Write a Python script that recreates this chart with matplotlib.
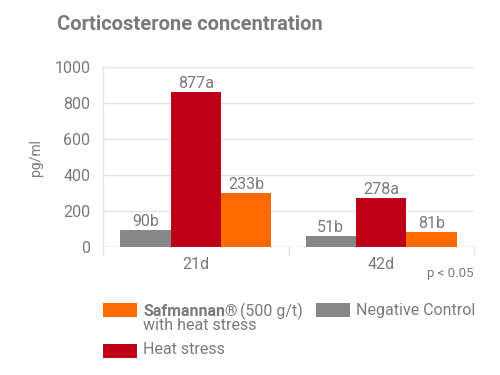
import matplotlib
matplotlib.use("Agg")
import matplotlib.pyplot as plt
from matplotlib.patches import Rectangle
import numpy as np

plt.rcParams['font.family'] = ['Roboto', 'DejaVu Sans']

categories = ["21d", "42d"]
series_names = ["Negative Control", "Heat stress", "Safmannan® (500 g/t) with heat stress"]
neg_control = [94, 63]
heat_stress = [860, 275]
safmannan = [302, 82]
neg_labels = ["90b", "51b"]
heat_labels = ["877a", "278a"]
saf_labels = ["233b", "81b"]
yticks = [0, 200, 400, 600, 800, 1000]

c_gray = "#878787"
c_red = "#BE0019"
c_orange = "#FF6A00"
c_text = "#7a7a7a"
c_grid = "#e3e3e3"

fig = plt.figure(figsize=(5, 3.75), dpi=100)
ax = fig.add_axes([0.206, 0.341, 0.742, 0.48])

x = np.arange(len(categories))
w = 0.272
series = [(neg_control, neg_labels, c_gray), (heat_stress, heat_labels, c_red), (safmannan, saf_labels, c_orange)]
for i, (vals, labs, col) in enumerate(series):
    pos = x + (i - 1) * w
    ax.bar(pos, vals, width=w, color=col, zorder=3, linewidth=0)
    for p, v, l in zip(pos, vals, labs):
        ax.text(p, v + 6, l, ha="center", va="bottom", fontsize=11.5, color=c_text, zorder=4)

ax.set_xlim(-0.5, 1.5)
ax.set_ylim(0, 1000)
ax.set_yticks(yticks)
ax.set_yticklabels([str(t) for t in yticks], fontsize=11.5, color=c_text)
ax.yaxis.grid(True, color=c_grid, linewidth=1, zorder=0)
ax.tick_params(axis="y", length=0, pad=9)
for s in ["top", "right", "bottom", "left"]:
    ax.spines[s].set_visible(False)
# category separator lines
for b in [-0.5, 0.5, 1.5]:
    ax.plot([b, b], [-45, 1000 if b == -0.5 else 0], color=c_grid, lw=1, clip_on=False, zorder=1)
ax.axhline(0, color=c_grid, lw=1, zorder=1)
ax.set_xticks(x)
ax.set_xticklabels(categories, fontsize=11.5, color=c_text)
ax.tick_params(axis="x", length=0, pad=7)
ax.set_ylabel("pg/ml", fontsize=10, color=c_text, labelpad=8)

fig.text(0.114, 0.935, "Corticosterone concentration", fontsize=14.5, fontweight="bold", color=c_text, va="center")
fig.text(0.948, 0.272, "p < 0.05", fontsize=9.5, color=c_text, ha="right", va="center")

def patch(x0, y0, col):
    fig.add_artist(Rectangle((x0 / 500, 1 - y0 / 375 - 14 / 375), 34 / 500, 14 / 375, transform=fig.transFigure, color=col, lw=0))

patch(103, 303, c_orange)
t1 = fig.text(143 / 500, 1 - 311 / 375, "Safmannan®", fontsize=11.5, fontweight="bold", color=c_text, va="center")
fig.canvas.draw()
bb = t1.get_window_extent()
fig.text(bb.x1 / 500 + 0.004, 1 - 311 / 375, "(500 g/t)", fontsize=11.5, color=c_text, va="center")
fig.text(143 / 500, 1 - 325 / 375, "with heat stress", fontsize=11.5, color=c_text, va="center")
patch(316, 303, c_gray)
fig.text(356 / 500, 1 - 310 / 375, "Negative Control", fontsize=11.5, color=c_text, va="center")
patch(103, 344, c_red)
fig.text(143 / 500, 1 - 350 / 375, "Heat stress", fontsize=11.5, color=c_text, va="center")

fig.savefig("out.png", dpi=100)
